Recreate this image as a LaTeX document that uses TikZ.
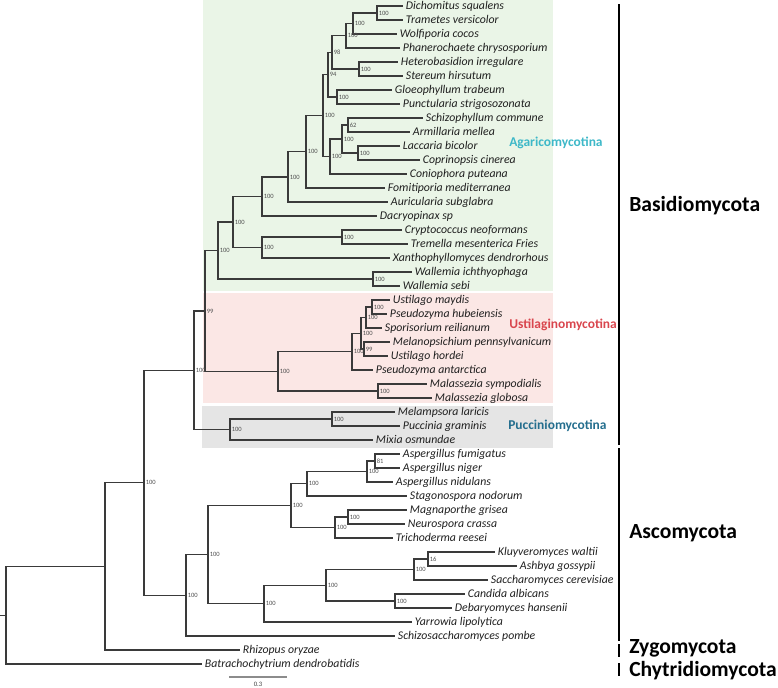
\documentclass[tikz,border=0pt]{standalone}
\usepackage{fontspec}
\setmainfont{Carlito}
\definecolor{treec}{HTML}{3A3A3A}
\definecolor{greenbg}{HTML}{EAF5E7}
\definecolor{redbg}{HTML}{FBE7E5}
\definecolor{graybg}{HTML}{E5E5E5}
\definecolor{agc}{HTML}{3DB8C8}
\definecolor{usc}{HTML}{D9464E}
\definecolor{puc}{HTML}{246E8E}
\definecolor{bootc}{HTML}{505050}
\begin{document}
\begin{tikzpicture}[x=0.75pt,y=-0.75pt,
  br/.style={draw=treec, line width=1pt},
  leaf/.style={anchor=west, inner sep=2pt, text height=1.55ex, text depth=0.45ex, font=\fontsize{8.85}{10}\selectfont\itshape, text=black!88},
  boot/.style={anchor=west, inner sep=0.6pt, xshift=0.6pt, font=\fontsize{4.9}{5.5}\selectfont, text=bootc},
  sub/.style={anchor=west, inner sep=0pt, font=\fontsize{10.1}{12}\selectfont\bfseries},
  phy/.style={anchor=west, inner sep=0pt, font=\fontsize{16.2}{19}\selectfont\bfseries},
  bar/.style={draw=black, line width=1.6pt},
]
\useasboundingbox (0,0) rectangle (778,687);
% backgrounds
\fill[greenbg] (203,0) rectangle (553,291);
\fill[redbg] (203,293) rectangle (553,403);
\fill[graybg] (202,406) rectangle (553,448);
% leaves
\node[leaf] (L1) at (403,6) {Dichomitus squalens};
\node[leaf] (L2) at (403,20) {Trametes versicolor};
\node[leaf] (L3) at (397,34) {Wolfiporia cocos};
\node[leaf] (L4) at (400,48) {Phanerochaete chrysosporium};
\node[leaf] (L5) at (398,62) {Heterobasidion irregulare};
\node[leaf] (L6) at (403,76) {Stereum hirsutum};
\node[leaf] (L7) at (392,90) {Gloeophyllum trabeum};
\node[leaf] (L8) at (400,104) {Punctularia strigosozonata};
\node[leaf] (L9) at (423,118) {Schizophyllum commune};
\node[leaf] (L10) at (410,132) {Armillaria mellea};
\node[leaf] (L11) at (400,146) {Laccaria bicolor};
\node[leaf] (L12) at (420,160) {Coprinopsis cinerea};
\node[leaf] (L13) at (407,174) {Coniophora puteana};
\node[leaf] (L14) at (385,188) {Fomitiporia mediterranea};
\node[leaf] (L15) at (388,202) {Auricularia subglabra};
\node[leaf] (L16) at (377,216) {Dacryopinax sp};
\node[leaf] (L17) at (402,230) {Cryptococcus neoformans};
\node[leaf] (L18) at (408,244) {Tremella mesenterica Fries};
\node[leaf] (L19) at (390,258) {Xanthophyllomyces dendrorhous};
\node[leaf] (L20) at (412,272) {Wallemia ichthyophaga};
\node[leaf] (L21) at (400,286) {Wallemia sebi};
\node[leaf] (L22) at (390,300) {Ustilago maydis};
\node[leaf] (L23) at (387,314) {Pseudozyma hubeiensis};
\node[leaf] (L24) at (382,328) {Sporisorium reilianum};
\node[leaf] (L25) at (390,342) {Melanopsichium pennsylvanicum};
\node[leaf] (L26) at (388,356) {Ustilago hordei};
\node[leaf] (L27) at (373,370) {Pseudozyma antarctica};
\node[leaf] (L28) at (427,384) {Malassezia sympodialis};
\node[leaf] (L29) at (432,398) {Malassezia globosa};
\node[leaf] (L30) at (395,412) {Melampsora laricis};
\node[leaf] (L31) at (400,426) {Puccinia graminis};
\node[leaf] (L32) at (373,440) {Mixia osmundae};
\node[leaf] (L33) at (400,454) {Aspergillus fumigatus};
\node[leaf] (L34) at (400,468) {Aspergillus niger};
\node[leaf] (L35) at (393,482) {Aspergillus nidulans};
\node[leaf] (L36) at (407,496) {Stagonospora nodorum};
\node[leaf] (L37) at (407,510) {Magnaporthe grisea};
\node[leaf] (L38) at (405,524) {Neurospora crassa};
\node[leaf] (L39) at (393,538) {Trichoderma reesei};
\node[leaf] (L40) at (495,552) {Kluyveromyces waltii};
\node[leaf] (L41) at (517,566) {Ashbya gossypii};
\node[leaf] (L42) at (488,580) {Saccharomyces cerevisiae};
\node[leaf] (L43) at (465,594) {Candida albicans};
\node[leaf] (L44) at (452,608) {Debaryomyces hansenii};
\node[leaf] (L45) at (412,622) {Yarrowia lipolytica};
\node[leaf] (L46) at (395,636) {Schizosaccharomyces pombe};
\node[leaf] (L47) at (240,650) {Rhizopus oryzae};
\node[leaf] (L48) at (202,664) {Batrachochytrium dendrobatidis};
% internal nodes
\coordinate (N1) at (377,13);
\coordinate (P2) at (353,23.5);
\coordinate (Pol) at (346,35.75);
\coordinate (HS) at (359,69);
\coordinate (N98) at (332,52.4);
\coordinate (GP) at (337,97);
\coordinate (N94) at (328,74.7);
\coordinate (SA) at (348,125);
\coordinate (LC) at (358,153);
\coordinate (N138) at (342,139);
\coordinate (N156) at (330,156.5);
\coordinate (Ag4) at (323,115.6);
\coordinate (Ag3) at (306,151.8);
\coordinate (Ag2) at (288,176.9);
\coordinate (Ag1) at (262,196.5);
\coordinate (CT) at (342,237);
\coordinate (Tr) at (262,247.5);
\coordinate (Ag) at (233,222);
\coordinate (Wal) at (373,279);
\coordinate (W) at (218,250.5);
\coordinate (U5) at (372,307);
\coordinate (U3) at (366,317.5);
\coordinate (U4) at (364,349);
\coordinate (U2) at (361,333.25);
\coordinate (U1) at (352,351.6);
\coordinate (M) at (378,391);
\coordinate (U) at (278,371.3);
\coordinate (N99) at (205,310.9);
\coordinate (MP) at (332,419);
\coordinate (P) at (230,429.5);
\coordinate (C) at (194,370.2);
\coordinate (FN) at (375,461);
\coordinate (Asp) at (367,471.5);
\coordinate (E) at (307,483.75);
\coordinate (MN) at (348,517);
\coordinate (So) at (335,527.5);
\coordinate (Pz) at (291,505.6);
\coordinate (KA) at (428,559);
\coordinate (Sc) at (414,569.5);
\coordinate (CD) at (395,601);
\coordinate (Sa1) at (326,585.25);
\coordinate (Sa) at (264,603.6);
\coordinate (As1) at (208,554.6);
\coordinate (As) at (186,595.3);
\coordinate (B) at (144,482.75);
\coordinate (A) at (105,566.4);
\coordinate (R) at (6,615.2);
\coordinate (R0) at (0,615.2);
% branches
\draw[br] (N1) |- (L1.west); \draw[br] (N1) |- (L2.west);
\draw[br] (P2) |- (N1); \draw[br] (P2) |- (L3.west);
\draw[br] (Pol) |- (P2); \draw[br] (Pol) |- (L4.west);
\draw[br] (HS) |- (L5.west); \draw[br] (HS) |- (L6.west);
\draw[br] (N98) |- (Pol); \draw[br] (N98) |- (HS);
\draw[br] (GP) |- (L7.west); \draw[br] (GP) |- (L8.west);
\draw[br] (N94) |- (N98); \draw[br] (N94) |- (GP);
\draw[br] (SA) |- (L9.west); \draw[br] (SA) |- (L10.west);
\draw[br] (LC) |- (L11.west); \draw[br] (LC) |- (L12.west);
\draw[br] (N138) |- (SA); \draw[br] (N138) |- (LC);
\draw[br] (N156) |- (N138); \draw[br] (N156) |- (L13.west);
\draw[br] (Ag4) |- (N94); \draw[br] (Ag4) |- (N156);
\draw[br] (Ag3) |- (Ag4); \draw[br] (Ag3) |- (L14.west);
\draw[br] (Ag2) |- (Ag3); \draw[br] (Ag2) |- (L15.west);
\draw[br] (Ag1) |- (Ag2); \draw[br] (Ag1) |- (L16.west);
\draw[br] (CT) |- (L17.west); \draw[br] (CT) |- (L18.west);
\draw[br] (Tr) |- (CT); \draw[br] (Tr) |- (L19.west);
\draw[br] (Ag) |- (Ag1); \draw[br] (Ag) |- (Tr);
\draw[br] (Wal) |- (L20.west); \draw[br] (Wal) |- (L21.west);
\draw[br] (W) |- (Ag); \draw[br] (W) |- (Wal);
\draw[br] (U5) |- (L22.west); \draw[br] (U5) |- (L23.west);
\draw[br] (U3) |- (U5); \draw[br] (U3) |- (L24.west);
\draw[br] (U4) |- (L25.west); \draw[br] (U4) |- (L26.west);
\draw[br] (U2) |- (U3); \draw[br] (U2) |- (U4);
\draw[br] (U1) |- (U2); \draw[br] (U1) |- (L27.west);
\draw[br] (M) |- (L28.west); \draw[br] (M) |- (L29.west);
\draw[br] (U) |- (U1); \draw[br] (U) |- (M);
\draw[br] (N99) |- (W); \draw[br] (N99) |- (U);
\draw[br] (MP) |- (L30.west); \draw[br] (MP) |- (L31.west);
\draw[br] (P) |- (MP); \draw[br] (P) |- (L32.west);
\draw[br] (C) |- (N99); \draw[br] (C) |- (P);
\draw[br] (FN) |- (L33.west); \draw[br] (FN) |- (L34.west);
\draw[br] (Asp) |- (FN); \draw[br] (Asp) |- (L35.west);
\draw[br] (E) |- (Asp); \draw[br] (E) |- (L36.west);
\draw[br] (MN) |- (L37.west); \draw[br] (MN) |- (L38.west);
\draw[br] (So) |- (MN); \draw[br] (So) |- (L39.west);
\draw[br] (Pz) |- (E); \draw[br] (Pz) |- (So);
\draw[br] (KA) |- (L40.west); \draw[br] (KA) |- (L41.west);
\draw[br] (Sc) |- (KA); \draw[br] (Sc) |- (L42.west);
\draw[br] (CD) |- (L43.west); \draw[br] (CD) |- (L44.west);
\draw[br] (Sa1) |- (Sc); \draw[br] (Sa1) |- (CD);
\draw[br] (Sa) |- (Sa1); \draw[br] (Sa) |- (L45.west);
\draw[br] (As1) |- (Pz); \draw[br] (As1) |- (Sa);
\draw[br] (As) |- (As1); \draw[br] (As) |- (L46.west);
\draw[br] (B) |- (C); \draw[br] (B) |- (As);
\draw[br] (A) |- (B); \draw[br] (A) |- (L47.west);
\draw[br] (R) |- (A); \draw[br] (R) |- (L48.west);
\draw[br] (R0) -- (R);
% bootstrap labels
\node[boot] (bN1) at (N1) {100};
\node[boot] (bP2) at (P2) {100};
\node[boot] (bPol) at (Pol) {100};
\node[boot] (bHS) at (HS) {100};
\node[boot] (bN98) at (N98) {98};
\node[boot] (bGP) at (GP) {100};
\node[boot] (bN94) at (N94) {94};
\node[boot] (bSA) at (SA) {62};
\node[boot] (bLC) at (LC) {100};
\node[boot] (bN138) at (N138) {100};
\node[boot] (bN156) at (N156) {100};
\node[boot] (bAg4) at (Ag4) {100};
\node[boot] (bAg3) at (Ag3) {100};
\node[boot] (bAg2) at (Ag2) {100};
\node[boot] (bAg1) at (Ag1) {100};
\node[boot] (bCT) at (CT) {100};
\node[boot] (bTr) at (Tr) {100};
\node[boot] (bAg) at (Ag) {100};
\node[boot] (bWal) at (Wal) {100};
\node[boot] (bW) at (W) {100};
\node[boot] (bU5) at (U5) {100};
\node[boot] (bU3) at (U3) {100};
\node[boot] (bU4) at (U4) {99};
\node[boot] (bU2) at (U2) {100};
\node[boot] (bU1) at (U1) {100};
\node[boot] (bM) at (M) {100};
\node[boot] (bU) at (U) {100};
\node[boot] (bN99) at (N99) {99};
\node[boot] (bMP) at (MP) {100};
\node[boot] (bP) at (P) {100};
\node[boot] (bC) at (C) {100};
\node[boot] (bFN) at (FN) {81};
\node[boot] (bAsp) at (Asp) {100};
\node[boot] (bE) at (E) {100};
\node[boot] (bMN) at (MN) {100};
\node[boot] (bSo) at (So) {100};
\node[boot] (bPz) at (Pz) {100};
\node[boot] (bKA) at (KA) {16};
\node[boot] (bSc) at (Sc) {100};
\node[boot] (bCD) at (CD) {100};
\node[boot] (bSa1) at (Sa1) {100};
\node[boot] (bSa) at (Sa) {100};
\node[boot] (bAs1) at (As1) {100};
\node[boot] (bAs) at (As) {100};
\node[boot] (bB) at (B) {100};
% subphylum labels
\node[sub, text=agc] (tAg) at (509,143) {Agaricomycotina};
\node[sub, text=usc] (tUs) at (509,325) {Ustilaginomycotina};
\node[sub, text=puc] (tPu) at (508,426) {Pucciniomycotina};
% phylum bars and labels
\coordinate (bb1) at (619,4); \coordinate (bb2) at (619,445);
\coordinate (ab1) at (619,448); \coordinate (ab2) at (619,641);
\coordinate (zb1) at (619,644); \coordinate (zb2) at (619,657);
\coordinate (cb1) at (619,663); \coordinate (cb2) at (619,676);
\draw[bar] (bb1) -- (bb2);
\draw[bar] (ab1) -- (ab2);
\draw[bar] (zb1) -- (zb2);
\draw[bar] (cb1) -- (cb2);
\node[phy] (tBa) at (629,206) {Basidiomycota};
\node[phy] (tAs) at (629,533) {Ascomycota};
\node[phy] (tZy) at (629,648) {Zygomycota};
\node[phy] (tCh) at (629,670.5) {Chytridiomycota};
% scale bar
\coordinate (sb1) at (229,677); \coordinate (sb2) at (287,677);
\draw[draw=black!45, line width=1pt] (sb1) -- (sb2);
\node[inner sep=0pt, font=\fontsize{5}{6}\selectfont, text=black!75] (sbl) at (258,684.5) {0.3};
\end{tikzpicture}
\end{document}
